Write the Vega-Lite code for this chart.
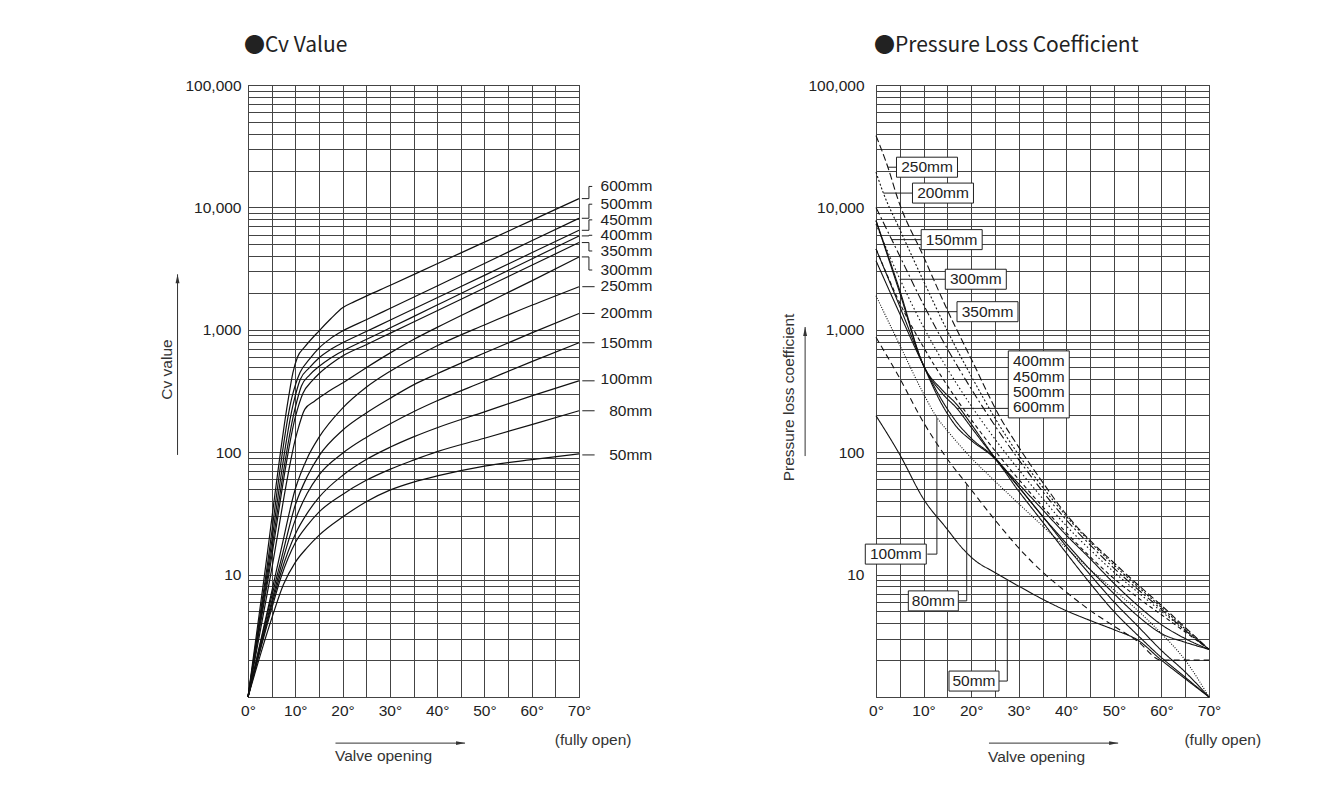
{
  "$schema": "https://vega.github.io/schema/vega-lite/v6.json",
  "padding": {"left": 158, "top": 34, "right": 20, "bottom": 28},
  "spacing": 297,
  "bounds": "flush",
  "config": {
    "font": "Liberation Sans",
    "view": {"stroke": "#2b2b2b", "strokeWidth": 1},
    "axis": {
      "labelFont": "Liberation Sans", "labelFontSize": 15.5, "labelColor": "#222",
      "titleFont": "Liberation Sans", "titleFontSize": 15.5, "titleFontWeight": "normal", "titleColor": "#333",
      "gridColor": "#444", "gridOpacity": 1, "gridWidth": 1, "ticks": false, "domain": false,
      "labelOverlap": false, "labelFlush": false, "labelBound": false
    },
    "title": {"font": "Noto Sans CJK JP", "fontSize": 21, "fontWeight": "normal", "color": "#222", "anchor": "start", "frame": "group", "baseline": "bottom"}
  },
  "datasets": {
    "cv": [
      {"size": "600mm", "deg": 0, "v": 1}, {"size": "600mm", "deg": 3.5, "v": 10}, {"size": "600mm", "deg": 8.5, "v": 269}, {"size": "600mm", "deg": 9.5, "v": 447}, {"size": "600mm", "deg": 10.5, "v": 603}, {"size": "600mm", "deg": 12, "v": 724}, {"size": "600mm", "deg": 15, "v": 977}, {"size": "600mm", "deg": 17.5, "v": 1230}, {"size": "600mm", "deg": 20, "v": 1514}, {"size": "600mm", "deg": 22.5, "v": 1698}, {"size": "600mm", "deg": 25, "v": 1884}, {"size": "600mm", "deg": 30, "v": 2301}, {"size": "600mm", "deg": 40, "v": 3467}, {"size": "600mm", "deg": 50, "v": 5200}, {"size": "600mm", "deg": 60, "v": 7834}, {"size": "600mm", "deg": 70, "v": 11800},
      {"size": "500mm", "deg": 0, "v": 1}, {"size": "500mm", "deg": 3.8, "v": 10}, {"size": "500mm", "deg": 9.3, "v": 282}, {"size": "500mm", "deg": 11, "v": 447}, {"size": "500mm", "deg": 13, "v": 575}, {"size": "500mm", "deg": 15, "v": 708}, {"size": "500mm", "deg": 17.5, "v": 851}, {"size": "500mm", "deg": 20, "v": 977}, {"size": "500mm", "deg": 25, "v": 1208}, {"size": "500mm", "deg": 30, "v": 1493}, {"size": "500mm", "deg": 40, "v": 2280}, {"size": "500mm", "deg": 50, "v": 3483}, {"size": "500mm", "deg": 60, "v": 5333}, {"size": "500mm", "deg": 70, "v": 8150},
      {"size": "450mm", "deg": 0, "v": 1}, {"size": "450mm", "deg": 4, "v": 10}, {"size": "450mm", "deg": 9.6, "v": 251}, {"size": "450mm", "deg": 11, "v": 389}, {"size": "450mm", "deg": 13, "v": 490}, {"size": "450mm", "deg": 15, "v": 589}, {"size": "450mm", "deg": 17.5, "v": 692}, {"size": "450mm", "deg": 20, "v": 783}, {"size": "450mm", "deg": 25, "v": 968}, {"size": "450mm", "deg": 30, "v": 1197}, {"size": "450mm", "deg": 40, "v": 1828}, {"size": "450mm", "deg": 50, "v": 2786}, {"size": "450mm", "deg": 60, "v": 4256}, {"size": "450mm", "deg": 70, "v": 6500},
      {"size": "400mm", "deg": 0, "v": 1}, {"size": "400mm", "deg": 4.2, "v": 10}, {"size": "400mm", "deg": 9.9, "v": 224}, {"size": "400mm", "deg": 11.3, "v": 347}, {"size": "400mm", "deg": 13, "v": 427}, {"size": "400mm", "deg": 15, "v": 501}, {"size": "400mm", "deg": 17.5, "v": 589}, {"size": "400mm", "deg": 20, "v": 670}, {"size": "400mm", "deg": 25, "v": 832}, {"size": "400mm", "deg": 30, "v": 1033}, {"size": "400mm", "deg": 40, "v": 1592}, {"size": "400mm", "deg": 50, "v": 2455}, {"size": "400mm", "deg": 60, "v": 3793}, {"size": "400mm", "deg": 70, "v": 5850},
      {"size": "350mm", "deg": 0, "v": 1}, {"size": "350mm", "deg": 4.4, "v": 10}, {"size": "350mm", "deg": 10.1, "v": 200}, {"size": "350mm", "deg": 11.6, "v": 302}, {"size": "350mm", "deg": 13.5, "v": 380}, {"size": "350mm", "deg": 15, "v": 437}, {"size": "350mm", "deg": 17.5, "v": 525}, {"size": "350mm", "deg": 20, "v": 610}, {"size": "350mm", "deg": 25, "v": 755}, {"size": "350mm", "deg": 30, "v": 935}, {"size": "350mm", "deg": 40, "v": 1432}, {"size": "350mm", "deg": 50, "v": 2198}, {"size": "350mm", "deg": 60, "v": 3365}, {"size": "350mm", "deg": 70, "v": 5160},
      {"size": "300mm", "deg": 0, "v": 1}, {"size": "300mm", "deg": 4.8, "v": 10}, {"size": "300mm", "deg": 10.3, "v": 141}, {"size": "300mm", "deg": 12, "v": 224}, {"size": "300mm", "deg": 14, "v": 260}, {"size": "300mm", "deg": 16, "v": 295}, {"size": "300mm", "deg": 18, "v": 331}, {"size": "300mm", "deg": 20, "v": 368}, {"size": "300mm", "deg": 25, "v": 490}, {"size": "300mm", "deg": 30, "v": 645}, {"size": "300mm", "deg": 35, "v": 832}, {"size": "300mm", "deg": 40, "v": 1047}, {"size": "300mm", "deg": 50, "v": 1622}, {"size": "300mm", "deg": 60, "v": 2512}, {"size": "300mm", "deg": 70, "v": 3940},
      {"size": "250mm", "deg": 0, "v": 1}, {"size": "250mm", "deg": 5, "v": 7.2}, {"size": "250mm", "deg": 7, "v": 16}, {"size": "250mm", "deg": 10, "v": 50}, {"size": "250mm", "deg": 12.5, "v": 89}, {"size": "250mm", "deg": 15, "v": 132}, {"size": "250mm", "deg": 20, "v": 229}, {"size": "250mm", "deg": 25, "v": 339}, {"size": "250mm", "deg": 30, "v": 457}, {"size": "250mm", "deg": 35, "v": 589}, {"size": "250mm", "deg": 40, "v": 741}, {"size": "250mm", "deg": 50, "v": 1096}, {"size": "250mm", "deg": 60, "v": 1585}, {"size": "250mm", "deg": 70, "v": 2250},
      {"size": "200mm", "deg": 0, "v": 1}, {"size": "200mm", "deg": 5, "v": 6.6}, {"size": "200mm", "deg": 7, "v": 13.2}, {"size": "200mm", "deg": 10, "v": 37}, {"size": "200mm", "deg": 12.5, "v": 63}, {"size": "200mm", "deg": 15, "v": 93}, {"size": "200mm", "deg": 20, "v": 151}, {"size": "200mm", "deg": 25, "v": 209}, {"size": "200mm", "deg": 30, "v": 275}, {"size": "200mm", "deg": 35, "v": 355}, {"size": "200mm", "deg": 40, "v": 437}, {"size": "200mm", "deg": 50, "v": 646}, {"size": "200mm", "deg": 60, "v": 944}, {"size": "200mm", "deg": 70, "v": 1360},
      {"size": "150mm", "deg": 0, "v": 1}, {"size": "150mm", "deg": 5, "v": 6.0}, {"size": "150mm", "deg": 7, "v": 11.7}, {"size": "150mm", "deg": 10, "v": 28}, {"size": "150mm", "deg": 12.5, "v": 46}, {"size": "150mm", "deg": 15, "v": 65}, {"size": "150mm", "deg": 20, "v": 98}, {"size": "150mm", "deg": 25, "v": 132}, {"size": "150mm", "deg": 30, "v": 170}, {"size": "150mm", "deg": 35, "v": 214}, {"size": "150mm", "deg": 40, "v": 263}, {"size": "150mm", "deg": 50, "v": 380}, {"size": "150mm", "deg": 60, "v": 550}, {"size": "150mm", "deg": 70, "v": 784},
      {"size": "100mm", "deg": 0, "v": 1}, {"size": "100mm", "deg": 5, "v": 5.62}, {"size": "100mm", "deg": 7, "v": 10.5}, {"size": "100mm", "deg": 10, "v": 21.4}, {"size": "100mm", "deg": 12.5, "v": 31.6}, {"size": "100mm", "deg": 15, "v": 42.7}, {"size": "100mm", "deg": 20, "v": 64.6}, {"size": "100mm", "deg": 25, "v": 87.1}, {"size": "100mm", "deg": 30, "v": 109.6}, {"size": "100mm", "deg": 35, "v": 133.4}, {"size": "100mm", "deg": 40, "v": 158.5}, {"size": "100mm", "deg": 50, "v": 213.8}, {"size": "100mm", "deg": 60, "v": 288.4}, {"size": "100mm", "deg": 70, "v": 383},
      {"size": "80mm", "deg": 0, "v": 1}, {"size": "80mm", "deg": 5, "v": 5.25}, {"size": "80mm", "deg": 7, "v": 9.55}, {"size": "80mm", "deg": 10, "v": 18.2}, {"size": "80mm", "deg": 12.5, "v": 25.1}, {"size": "80mm", "deg": 15, "v": 32.4}, {"size": "80mm", "deg": 20, "v": 45.2}, {"size": "80mm", "deg": 25, "v": 58.9}, {"size": "80mm", "deg": 30, "v": 72.4}, {"size": "80mm", "deg": 35, "v": 86.1}, {"size": "80mm", "deg": 40, "v": 101}, {"size": "80mm", "deg": 50, "v": 130}, {"size": "80mm", "deg": 60, "v": 168}, {"size": "80mm", "deg": 70, "v": 218},
      {"size": "50mm", "deg": 0, "v": 1}, {"size": "50mm", "deg": 5, "v": 4.37}, {"size": "50mm", "deg": 7.5, "v": 8.3}, {"size": "50mm", "deg": 10, "v": 12.6}, {"size": "50mm", "deg": 12.5, "v": 16.6}, {"size": "50mm", "deg": 15, "v": 20.9}, {"size": "50mm", "deg": 20, "v": 29.5}, {"size": "50mm", "deg": 25, "v": 39.4}, {"size": "50mm", "deg": 30, "v": 49}, {"size": "50mm", "deg": 35, "v": 57}, {"size": "50mm", "deg": 40, "v": 64}, {"size": "50mm", "deg": 50, "v": 77}, {"size": "50mm", "deg": 60, "v": 87}, {"size": "50mm", "deg": 70, "v": 97}
    ],
    "cvLabels": [
      {"label": "600mm", "deg": 85.5, "v": 14830}, {"label": "500mm", "deg": 85.5, "v": 10620}, {"label": "450mm", "deg": 85.5, "v": 7910},
      {"label": "400mm", "deg": 85.5, "v": 5920}, {"label": "350mm", "deg": 85.5, "v": 4405}, {"label": "300mm", "deg": 85.5, "v": 3080},
      {"label": "250mm", "deg": 85.5, "v": 2280}, {"label": "200mm", "deg": 85.5, "v": 1380}, {"label": "150mm", "deg": 85.5, "v": 784},
      {"label": "100mm", "deg": 85.5, "v": 393}, {"label": "80mm", "deg": 85.5, "v": 218}, {"label": "50mm", "deg": 85.5, "v": 94}
    ],
    "cvLeaders": [
      {"size": "600mm", "i": 1, "deg": 70.6, "v": 11800}, {"size": "600mm", "i": 2, "deg": 72.1, "v": 11800}, {"size": "600mm", "i": 3, "deg": 72.1, "v": 14830}, {"size": "600mm", "i": 4, "deg": 72.8, "v": 14830},
      {"size": "500mm", "i": 1, "deg": 70.6, "v": 8150}, {"size": "500mm", "i": 2, "deg": 72.1, "v": 8150}, {"size": "500mm", "i": 3, "deg": 72.1, "v": 10620}, {"size": "500mm", "i": 4, "deg": 72.8, "v": 10620},
      {"size": "450mm", "i": 1, "deg": 70.6, "v": 6500}, {"size": "450mm", "i": 2, "deg": 72.1, "v": 6500}, {"size": "450mm", "i": 3, "deg": 72.1, "v": 7910}, {"size": "450mm", "i": 4, "deg": 72.8, "v": 7910},
      {"size": "400mm", "i": 1, "deg": 70.6, "v": 5850}, {"size": "400mm", "i": 2, "deg": 72.1, "v": 5850}, {"size": "400mm", "i": 3, "deg": 72.1, "v": 5920}, {"size": "400mm", "i": 4, "deg": 72.8, "v": 5920},
      {"size": "350mm", "i": 1, "deg": 70.6, "v": 5160}, {"size": "350mm", "i": 2, "deg": 72.1, "v": 5160}, {"size": "350mm", "i": 3, "deg": 72.1, "v": 4405}, {"size": "350mm", "i": 4, "deg": 72.8, "v": 4405},
      {"size": "300mm", "i": 1, "deg": 70.6, "v": 3940}, {"size": "300mm", "i": 2, "deg": 72.1, "v": 3940}, {"size": "300mm", "i": 3, "deg": 72.1, "v": 3080}, {"size": "300mm", "i": 4, "deg": 72.8, "v": 3080},
      {"size": "250mm", "i": 1, "deg": 70.7, "v": 2250}, {"size": "250mm", "i": 2, "deg": 73.3, "v": 2250},
      {"size": "200mm", "i": 1, "deg": 70.7, "v": 1360}, {"size": "200mm", "i": 2, "deg": 73.3, "v": 1360},
      {"size": "150mm", "i": 1, "deg": 70.7, "v": 784}, {"size": "150mm", "i": 2, "deg": 73.3, "v": 784},
      {"size": "100mm", "i": 1, "deg": 70.7, "v": 383}, {"size": "100mm", "i": 2, "deg": 73.3, "v": 383},
      {"size": "80mm", "i": 1, "deg": 70.7, "v": 218}, {"size": "80mm", "i": 2, "deg": 73.3, "v": 218},
      {"size": "50mm", "i": 1, "deg": 70.7, "v": 95}, {"size": "50mm", "i": 2, "deg": 73.3, "v": 95}
    ],
    "cvArrows": [
      {"deg": 18.5, "v": 0.42, "deg2": 45.9, "v2": 0.42},
      {"deg": -14.9, "v": 95, "deg2": -14.9, "v2": 2840}
    ],
    "cvHeads": [
      {"deg": 45.9, "v": 0.42, "dir": "right"},
      {"deg": -14.9, "v": 2840, "dir": "up"}
    ],
    "cvNotes": [
      {"text": "(fully open)", "deg": 73.0, "v": 0.445}
    ],
    "pl": [
      {"size": "250mm", "deg": 0, "v": 38600}, {"size": "250mm", "deg": 2.5, "v": 21300}, {"size": "250mm", "deg": 4.6, "v": 11700}, {"size": "250mm", "deg": 10, "v": 3960}, {"size": "250mm", "deg": 15, "v": 1450}, {"size": "250mm", "deg": 20, "v": 580}, {"size": "250mm", "deg": 26.3, "v": 186}, {"size": "250mm", "deg": 30, "v": 110}, {"size": "250mm", "deg": 35, "v": 57}, {"size": "250mm", "deg": 40, "v": 31}, {"size": "250mm", "deg": 45, "v": 19}, {"size": "250mm", "deg": 50, "v": 12.5}, {"size": "250mm", "deg": 55, "v": 8.3}, {"size": "250mm", "deg": 60, "v": 5.6}, {"size": "250mm", "deg": 65, "v": 3.7}, {"size": "250mm", "deg": 70, "v": 2.45},
      {"size": "200mm", "deg": 0, "v": 19400}, {"size": "200mm", "deg": 1.55, "v": 13090}, {"size": "200mm", "deg": 5, "v": 6600}, {"size": "200mm", "deg": 10, "v": 2500}, {"size": "200mm", "deg": 15, "v": 980}, {"size": "200mm", "deg": 20, "v": 420}, {"size": "200mm", "deg": 25, "v": 190}, {"size": "200mm", "deg": 30, "v": 95}, {"size": "200mm", "deg": 35, "v": 52}, {"size": "200mm", "deg": 40, "v": 30}, {"size": "200mm", "deg": 45, "v": 18.5}, {"size": "200mm", "deg": 50, "v": 12}, {"size": "200mm", "deg": 55, "v": 8}, {"size": "200mm", "deg": 60, "v": 5.4}, {"size": "200mm", "deg": 65, "v": 3.6}, {"size": "200mm", "deg": 70, "v": 2.45},
      {"size": "150mm", "deg": 0, "v": 10000}, {"size": "150mm", "deg": 3.3, "v": 5455}, {"size": "150mm", "deg": 5, "v": 4000}, {"size": "150mm", "deg": 10, "v": 1600}, {"size": "150mm", "deg": 15, "v": 700}, {"size": "150mm", "deg": 20, "v": 330}, {"size": "150mm", "deg": 25, "v": 165}, {"size": "150mm", "deg": 30, "v": 87}, {"size": "150mm", "deg": 35, "v": 48}, {"size": "150mm", "deg": 40, "v": 28}, {"size": "150mm", "deg": 45, "v": 17.5}, {"size": "150mm", "deg": 50, "v": 11.3}, {"size": "150mm", "deg": 55, "v": 7.6}, {"size": "150mm", "deg": 60, "v": 5.2}, {"size": "150mm", "deg": 65, "v": 3.5}, {"size": "150mm", "deg": 70, "v": 2.45},
      {"size": "300mm", "deg": 0, "v": 7300}, {"size": "300mm", "deg": 5.04, "v": 2588}, {"size": "300mm", "deg": 10, "v": 1050}, {"size": "300mm", "deg": 15, "v": 480}, {"size": "300mm", "deg": 20, "v": 240}, {"size": "300mm", "deg": 25, "v": 128}, {"size": "300mm", "deg": 30, "v": 72}, {"size": "300mm", "deg": 35, "v": 42}, {"size": "300mm", "deg": 40, "v": 25}, {"size": "300mm", "deg": 45, "v": 16}, {"size": "300mm", "deg": 50, "v": 10.5}, {"size": "300mm", "deg": 55, "v": 7.2}, {"size": "300mm", "deg": 60, "v": 5}, {"size": "300mm", "deg": 65, "v": 3.5}, {"size": "300mm", "deg": 70, "v": 2.45},
      {"size": "350mm", "deg": 0, "v": 4580}, {"size": "350mm", "deg": 5.89, "v": 1406}, {"size": "350mm", "deg": 10, "v": 720}, {"size": "350mm", "deg": 15, "v": 350}, {"size": "350mm", "deg": 20, "v": 185}, {"size": "350mm", "deg": 25, "v": 103}, {"size": "350mm", "deg": 30, "v": 60}, {"size": "350mm", "deg": 35, "v": 36}, {"size": "350mm", "deg": 40, "v": 22}, {"size": "350mm", "deg": 45, "v": 14}, {"size": "350mm", "deg": 50, "v": 9.3}, {"size": "350mm", "deg": 55, "v": 6.5}, {"size": "350mm", "deg": 60, "v": 4.7}, {"size": "350mm", "deg": 65, "v": 3.4}, {"size": "350mm", "deg": 70, "v": 2.45},
      {"size": "400mm", "deg": 0, "v": 7800}, {"size": "400mm", "deg": 5, "v": 2000}, {"size": "400mm", "deg": 10, "v": 510}, {"size": "400mm", "deg": 14, "v": 300}, {"size": "400mm", "deg": 17, "v": 228}, {"size": "400mm", "deg": 20, "v": 160}, {"size": "400mm", "deg": 25, "v": 90}, {"size": "400mm", "deg": 30, "v": 55}, {"size": "400mm", "deg": 35, "v": 34}, {"size": "400mm", "deg": 40, "v": 21}, {"size": "400mm", "deg": 45, "v": 13.5}, {"size": "400mm", "deg": 50, "v": 8.5}, {"size": "400mm", "deg": 55, "v": 5.6}, {"size": "400mm", "deg": 60, "v": 3.9}, {"size": "400mm", "deg": 65, "v": 3.0}, {"size": "400mm", "deg": 70, "v": 2.45},
      {"size": "450mm", "deg": 0, "v": 3670}, {"size": "450mm", "deg": 5, "v": 1350}, {"size": "450mm", "deg": 10, "v": 510}, {"size": "450mm", "deg": 14, "v": 260}, {"size": "450mm", "deg": 17, "v": 175}, {"size": "450mm", "deg": 20, "v": 130}, {"size": "450mm", "deg": 25, "v": 90}, {"size": "450mm", "deg": 30, "v": 52}, {"size": "450mm", "deg": 35, "v": 30}, {"size": "450mm", "deg": 40, "v": 17}, {"size": "450mm", "deg": 45, "v": 10}, {"size": "450mm", "deg": 50, "v": 6}, {"size": "450mm", "deg": 55, "v": 3.8}, {"size": "450mm", "deg": 60, "v": 2.4}, {"size": "450mm", "deg": 65, "v": 1.6}, {"size": "450mm", "deg": 70, "v": 1.0},
      {"size": "500mm", "deg": 0, "v": 7800}, {"size": "500mm", "deg": 5, "v": 2100}, {"size": "500mm", "deg": 10, "v": 510}, {"size": "500mm", "deg": 14, "v": 320}, {"size": "500mm", "deg": 17, "v": 245}, {"size": "500mm", "deg": 20, "v": 170}, {"size": "500mm", "deg": 25, "v": 90}, {"size": "500mm", "deg": 30, "v": 52}, {"size": "500mm", "deg": 35, "v": 30}, {"size": "500mm", "deg": 40, "v": 18}, {"size": "500mm", "deg": 45, "v": 11}, {"size": "500mm", "deg": 50, "v": 7}, {"size": "500mm", "deg": 55, "v": 4.6}, {"size": "500mm", "deg": 60, "v": 3.3}, {"size": "500mm", "deg": 65, "v": 2.8}, {"size": "500mm", "deg": 70, "v": 2.45},
      {"size": "600mm", "deg": 0, "v": 4580}, {"size": "600mm", "deg": 5, "v": 1550}, {"size": "600mm", "deg": 10, "v": 510}, {"size": "600mm", "deg": 14, "v": 240}, {"size": "600mm", "deg": 17, "v": 160}, {"size": "600mm", "deg": 20, "v": 125}, {"size": "600mm", "deg": 25, "v": 88}, {"size": "600mm", "deg": 30, "v": 48}, {"size": "600mm", "deg": 35, "v": 27}, {"size": "600mm", "deg": 40, "v": 15}, {"size": "600mm", "deg": 45, "v": 8.5}, {"size": "600mm", "deg": 50, "v": 5}, {"size": "600mm", "deg": 55, "v": 3.2}, {"size": "600mm", "deg": 60, "v": 2.1}, {"size": "600mm", "deg": 65, "v": 1.45}, {"size": "600mm", "deg": 70, "v": 1.0},
      {"size": "100mm", "deg": 0, "v": 1900}, {"size": "100mm", "deg": 5, "v": 750}, {"size": "100mm", "deg": 10, "v": 300}, {"size": "100mm", "deg": 12.8, "v": 192}, {"size": "100mm", "deg": 15, "v": 150}, {"size": "100mm", "deg": 20, "v": 90}, {"size": "100mm", "deg": 25, "v": 58}, {"size": "100mm", "deg": 30, "v": 38}, {"size": "100mm", "deg": 35, "v": 25}, {"size": "100mm", "deg": 40, "v": 16.5}, {"size": "100mm", "deg": 45, "v": 11}, {"size": "100mm", "deg": 50, "v": 7.5}, {"size": "100mm", "deg": 55, "v": 5.1}, {"size": "100mm", "deg": 60, "v": 3.3}, {"size": "100mm", "deg": 65, "v": 2.0}, {"size": "100mm", "deg": 70, "v": 1.0},
      {"size": "80mm", "deg": 0, "v": 868}, {"size": "80mm", "deg": 4.7, "v": 421}, {"size": "80mm", "deg": 10, "v": 175}, {"size": "80mm", "deg": 15, "v": 88}, {"size": "80mm", "deg": 19.07, "v": 55}, {"size": "80mm", "deg": 25, "v": 28}, {"size": "80mm", "deg": 30, "v": 16.5}, {"size": "80mm", "deg": 35, "v": 10.5}, {"size": "80mm", "deg": 40, "v": 7.2}, {"size": "80mm", "deg": 45, "v": 5.1}, {"size": "80mm", "deg": 50, "v": 3.8}, {"size": "80mm", "deg": 55, "v": 2.85}, {"size": "80mm", "deg": 60, "v": 2}, {"size": "80mm", "deg": 65, "v": 2}, {"size": "80mm", "deg": 70, "v": 2},
      {"size": "50mm", "deg": 0, "v": 198.6}, {"size": "50mm", "deg": 5, "v": 95.5}, {"size": "50mm", "deg": 10, "v": 41.4}, {"size": "50mm", "deg": 15, "v": 23.4}, {"size": "50mm", "deg": 17.7, "v": 17.2}, {"size": "50mm", "deg": 20.45, "v": 13.4}, {"size": "50mm", "deg": 25, "v": 10.4}, {"size": "50mm", "deg": 27.8, "v": 9.0}, {"size": "50mm", "deg": 30, "v": 8.05}, {"size": "50mm", "deg": 35, "v": 6.3}, {"size": "50mm", "deg": 40, "v": 5.07}, {"size": "50mm", "deg": 45, "v": 4.22}, {"size": "50mm", "deg": 50, "v": 3.55}, {"size": "50mm", "deg": 55, "v": 2.92}, {"size": "50mm", "deg": 60, "v": 2.0}, {"size": "50mm", "deg": 65, "v": 1.41}, {"size": "50mm", "deg": 70, "v": 1.0}
    ],
    "plLabels": [
      {"label": "250mm", "deg": 10.72, "v": 21300},
      {"label": "200mm", "deg": 14.08, "v": 13090},
      {"label": "150mm", "deg": 15.91, "v": 5455},
      {"label": "300mm", "deg": 20.98, "v": 2588},
      {"label": "350mm", "deg": 23.44, "v": 1406},
      {"label": ["400mm", "450mm", "500mm", "600mm"], "deg": 34.22, "v": 358},
      {"label": "100mm", "deg": 4.16, "v": 14.7},
      {"label": "80mm", "deg": 12.05, "v": 6.1},
      {"label": "50mm", "deg": 20.6, "v": 1.35}
    ],
    "plLeaders": [
      {"size": "250mm", "i": 1, "deg": 2.5, "v": 21300}, {"size": "250mm", "i": 2, "deg": 4.35, "v": 21300},
      {"size": "200mm", "i": 1, "deg": 1.55, "v": 13090}, {"size": "200mm", "i": 2, "deg": 7.68, "v": 13090},
      {"size": "150mm", "i": 1, "deg": 3.3, "v": 5455}, {"size": "150mm", "i": 2, "deg": 9.61, "v": 5455},
      {"size": "300mm", "i": 1, "deg": 5.04, "v": 2588}, {"size": "300mm", "i": 2, "deg": 14.51, "v": 2588},
      {"size": "350mm", "i": 1, "deg": 5.89, "v": 1406}, {"size": "350mm", "i": 2, "deg": 17.06, "v": 1406},
      {"size": "400-600mm", "i": 1, "deg": 16.97, "v": 228}, {"size": "400-600mm", "i": 2, "deg": 27.81, "v": 228},
      {"size": "100mm", "i": 1, "deg": 12.8, "v": 192}, {"size": "100mm", "i": 2, "deg": 12.8, "v": 14.7}, {"size": "100mm", "i": 3, "deg": 10.78, "v": 14.7},
      {"size": "80mm", "i": 1, "deg": 19.07, "v": 55}, {"size": "80mm", "i": 2, "deg": 19.07, "v": 6.1}, {"size": "80mm", "i": 3, "deg": 17.3, "v": 6.1},
      {"size": "50mm", "i": 1, "deg": 27.6, "v": 8.9}, {"size": "50mm", "i": 2, "deg": 27.6, "v": 1.35}, {"size": "50mm", "i": 3, "deg": 25.86, "v": 1.35}
    ],
    "plArrows": [
      {"deg": 23.75, "v": 0.42, "deg2": 50.9, "v2": 0.42},
      {"deg": -14.9, "v": 93, "deg2": -14.9, "v2": 1054}
    ],
    "plHeads": [
      {"deg": 50.9, "v": 0.42, "dir": "right"},
      {"deg": -14.9, "v": 1054, "dir": "up"}
    ],
    "plNotes": [
      {"text": "(fully open)", "deg": 72.9, "v": 0.445}
    ]
  },
  "hconcat": [
    {
      "width": 331,
      "height": 612,
      "title": {"text": "●Cv Value", "offset": 22, "dx": -4},
      "encoding": {
        "x": {
          "field": "deg", "type": "quantitative",
          "scale": {"domain": [0, 70], "nice": false, "zero": false},
          "axis": {
            "values": [0, 5, 10, 15, 20, 25, 30, 35, 40, 45, 50, 55, 60, 65, 70],
            "labelExpr": "datum.value % 10 === 0 ? datum.value + '°' : ''",
            "grid": true, "labelPadding": 6, "labelDx": 3,
            "title": "Valve opening", "titleX": 135, "titleY": 58, "titleBaseline": "middle", "titleAlign": "center"
          }
        },
        "y": {
          "field": "v", "type": "quantitative",
          "scale": {"type": "log", "domain": [1, 100000], "nice": false},
          "axis": {
            "values": [1, 2, 3, 4, 5, 6, 7, 8, 9, 10, 20, 30, 40, 50, 60, 70, 80, 90, 100, 200, 300, 400, 500, 600, 700, 800, 900, 1000, 2000, 3000, 4000, 5000, 6000, 7000, 8000, 9000, 10000, 20000, 30000, 40000, 50000, 60000, 70000, 80000, 90000, 100000],
            "labelExpr": "indexof([10, 100, 1000, 10000, 100000], datum.value) >= 0 ? format(datum.value, ',') : ''",
            "grid": true, "labelPadding": 7,
            "title": "Cv value", "titleX": -82, "titleY": 284, "titleAngle": -90, "titleBaseline": "middle", "titleAlign": "center"
          }
        }
      },
      "layer": [
        {"data": {"name": "cv"}, "mark": {"type": "line", "color": "#111", "strokeWidth": 1.2, "interpolate": "monotone"}, "encoding": {"detail": {"field": "size", "type": "nominal"}}},
        {"data": {"name": "cvLeaders"}, "mark": {"type": "line", "color": "#222", "strokeWidth": 1}, "encoding": {"detail": {"field": "size", "type": "nominal"}, "order": {"field": "i", "type": "quantitative"}}},
        {"data": {"name": "cvLabels"}, "mark": {"type": "text", "align": "right", "baseline": "middle", "fontSize": 15.5, "color": "#222"}, "encoding": {"text": {"field": "label", "type": "nominal"}}},
        {"data": {"name": "cvArrows"}, "mark": {"type": "rule", "color": "#333", "strokeWidth": 1}, "encoding": {"x2": {"field": "deg2"}, "y2": {"field": "v2"}}},
        {"data": {"name": "cvHeads"}, "mark": {"type": "point", "filled": true, "color": "#333", "opacity": 1, "size": 81}, "encoding": {"shape": {"field": "dir", "type": "nominal", "scale": {"domain": ["right", "up"], "range": ["M0,0L-2,-0.44L-2,0.44Z", "M0,0L-0.44,2L0.44,2Z"]}, "legend": null}}},
        {"data": {"name": "cvNotes"}, "mark": {"type": "text", "align": "center", "baseline": "middle", "fontSize": 15.5, "color": "#333"}, "encoding": {"text": {"field": "text", "type": "nominal"}}}
      ]
    },
    {
      "width": 333,
      "height": 612,
      "title": {"text": "●Pressure Loss Coefficient", "offset": 22, "dx": -2},
      "encoding": {
        "x": {
          "field": "deg", "type": "quantitative",
          "scale": {"domain": [0, 70], "nice": false, "zero": false},
          "axis": {
            "values": [0, 5, 10, 15, 20, 25, 30, 35, 40, 45, 50, 55, 60, 65, 70],
            "labelExpr": "datum.value % 10 === 0 ? datum.value + '°' : ''",
            "grid": true, "labelPadding": 6, "labelDx": 3,
            "title": "Valve opening", "titleX": 160, "titleY": 59, "titleBaseline": "middle", "titleAlign": "center"
          }
        },
        "y": {
          "field": "v", "type": "quantitative",
          "scale": {"type": "log", "domain": [1, 100000], "nice": false},
          "axis": {
            "values": [1, 2, 3, 4, 5, 6, 7, 8, 9, 10, 20, 30, 40, 50, 60, 70, 80, 90, 100, 200, 300, 400, 500, 600, 700, 800, 900, 1000, 2000, 3000, 4000, 5000, 6000, 7000, 8000, 9000, 10000, 20000, 30000, 40000, 50000, 60000, 70000, 80000, 90000, 100000],
            "labelExpr": "indexof([10, 100, 1000, 10000, 100000], datum.value) >= 0 ? format(datum.value, ',') : ''",
            "grid": true, "labelPadding": 12,
            "title": "Pressure loss coefficient", "titleX": -88, "titleY": 312, "titleAngle": -90, "titleBaseline": "middle", "titleAlign": "center"
          }
        }
      },
      "layer": [
        {"data": {"name": "pl"}, "mark": {"type": "line", "color": "#111", "strokeWidth": 1.1, "interpolate": "monotone"},
         "encoding": {
           "detail": {"field": "size", "type": "nominal"},
           "strokeDash": {"field": "size", "type": "nominal", "legend": null,
             "scale": {"domain": ["250mm", "200mm", "150mm", "300mm", "350mm", "400mm", "450mm", "500mm", "600mm", "100mm", "80mm", "50mm"],
                       "range": [[7, 3], [2, 2], [8, 3, 2, 3], [1.5, 2.5], [4, 3], [1, 0], [1, 0], [1, 0], [1, 0], [1, 1.5], [6, 4], [1, 0]]}}
         }},
        {"data": {"name": "plLeaders"}, "mark": {"type": "line", "color": "#222", "strokeWidth": 1}, "encoding": {"detail": {"field": "size", "type": "nominal"}, "order": {"field": "i", "type": "quantitative"}}},
        {"data": {"name": "plLabels"}, "transform": [{"filter": "!isArray(datum.label) && length(datum.label) == 5"}], "mark": {"type": "point", "shape": "M-1,-0.328H1V0.328H-1Z", "size": 3721, "filled": false, "fill": "white", "fillOpacity": 1, "stroke": "#222", "strokeWidth": 1, "opacity": 1}},
        {"data": {"name": "plLabels"}, "transform": [{"filter": "!isArray(datum.label) && length(datum.label) == 4"}], "mark": {"type": "point", "shape": "M-1,-0.4H1V0.4H-1Z", "size": 2500, "filled": false, "fill": "white", "fillOpacity": 1, "stroke": "#222", "strokeWidth": 1, "opacity": 1}},
        {"data": {"name": "plLabels"}, "transform": [{"filter": "isArray(datum.label)"}], "mark": {"type": "point", "shape": "M-0.91,-1H0.91V1H-0.91Z", "size": 4489, "filled": false, "fill": "white", "fillOpacity": 1, "stroke": "#222", "strokeWidth": 1, "opacity": 1}},
        {"data": {"name": "plLabels"}, "transform": [{"filter": "!isArray(datum.label)"}], "mark": {"type": "text", "align": "center", "baseline": "middle", "fontSize": 15.5, "color": "#222"}, "encoding": {"text": {"field": "label"}}},
        {"data": {"name": "plLabels"}, "transform": [{"filter": "isArray(datum.label)"}], "mark": {"type": "text", "align": "center", "baseline": "middle", "fontSize": 15.5, "lineHeight": 15.3, "dy": -23, "color": "#222"}, "encoding": {"text": {"field": "label"}}},
        {"data": {"name": "plArrows"}, "mark": {"type": "rule", "color": "#333", "strokeWidth": 1}, "encoding": {"x2": {"field": "deg2"}, "y2": {"field": "v2"}}},
        {"data": {"name": "plHeads"}, "mark": {"type": "point", "filled": true, "color": "#333", "opacity": 1, "size": 81}, "encoding": {"shape": {"field": "dir", "type": "nominal", "scale": {"domain": ["right", "up"], "range": ["M0,0L-2,-0.44L-2,0.44Z", "M0,0L-0.44,2L0.44,2Z"]}, "legend": null}}},
        {"data": {"name": "plNotes"}, "mark": {"type": "text", "align": "center", "baseline": "middle", "fontSize": 15.5, "color": "#333"}, "encoding": {"text": {"field": "text", "type": "nominal"}}}
      ]
    }
  ]
}
